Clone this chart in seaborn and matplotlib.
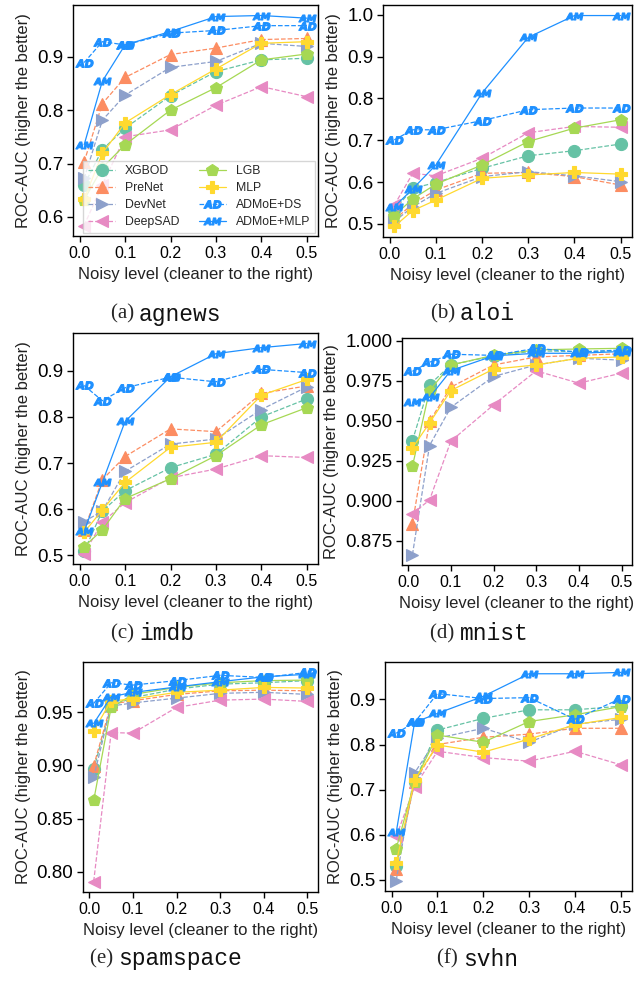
import matplotlib
matplotlib.use("Agg")
import matplotlib.pyplot as plt
import seaborn as sns
import pandas as pd
from matplotlib.ticker import MultipleLocator

# ---------------- data ----------------
noise = [0.01, 0.05, 0.1, 0.2, 0.3, 0.4, 0.5]
methods = ["XGBOD", "PreNet", "DevNet", "DeepSAD", "LGB", "MLP", "ADMoE+DS", "ADMoE+MLP"]

agnews = {
    "XGBOD":     [0.660, 0.726, 0.766, 0.827, 0.872, 0.894, 0.897],
    "PreNet":    [0.703, 0.812, 0.861, 0.904, 0.916, 0.932, 0.934],
    "DevNet":    [0.672, 0.781, 0.828, 0.880, 0.891, 0.925, 0.919],
    "DeepSAD":   [0.584, 0.660, 0.750, 0.763, 0.809, 0.844, 0.825],
    "LGB":       [0.632, 0.692, 0.735, 0.800, 0.842, 0.894, 0.905],
    "MLP":       [0.633, 0.719, 0.776, 0.829, 0.877, 0.925, 0.928],
    "ADMoE+DS":  [0.889, 0.928, 0.922, 0.944, 0.949, 0.958, 0.958],
    "ADMoE+MLP": [0.735, 0.854, 0.922, 0.947, 0.975, 0.977, 0.972],
}
aloi = {
    "XGBOD":     [0.533, 0.585, 0.599, 0.633, 0.663, 0.675, 0.691],
    "PreNet":    [0.510, 0.548, 0.581, 0.621, 0.623, 0.613, 0.593],
    "DevNet":    [0.506, 0.541, 0.573, 0.613, 0.625, 0.615, 0.601],
    "DeepSAD":   [0.545, 0.621, 0.615, 0.657, 0.718, 0.733, 0.731],
    "LGB":       [0.520, 0.560, 0.595, 0.641, 0.697, 0.729, 0.749],
    "MLP":       [0.494, 0.532, 0.557, 0.609, 0.617, 0.623, 0.619],
    "ADMoE+DS":  [0.701, 0.725, 0.725, 0.747, 0.773, 0.777, 0.777],
    "ADMoE+MLP": [0.541, 0.584, 0.641, 0.813, 0.946, 0.998, 0.998],
}
imdb = {
    "XGBOD":     [0.509, 0.596, 0.640, 0.690, 0.719, 0.800, 0.839],
    "PreNet":    [0.555, 0.664, 0.714, 0.774, 0.768, 0.851, 0.867],
    "DevNet":    [0.573, 0.596, 0.682, 0.741, 0.752, 0.816, 0.865],
    "DeepSAD":   [0.504, 0.572, 0.614, 0.668, 0.687, 0.716, 0.712],
    "LGB":       [0.519, 0.555, 0.623, 0.666, 0.716, 0.783, 0.820],
    "MLP":       [0.550, 0.598, 0.658, 0.734, 0.745, 0.847, 0.881],
    "ADMoE+DS":  [0.868, 0.835, 0.863, 0.886, 0.876, 0.903, 0.896],
    "ADMoE+MLP": [0.552, 0.658, 0.790, 0.887, 0.937, 0.950, 0.959],
}
mnist = {
    "XGBOD":     [0.9377, 0.9726, 0.9850, 0.9907, 0.9938, 0.9934, 0.9938],
    "PreNet":    [0.8858, 0.9497, 0.9711, 0.9850, 0.9900, 0.9910, 0.9920],
    "DevNet":    [0.8663, 0.9346, 0.9585, 0.9778, 0.9850, 0.9892, 0.9880],
    "DeepSAD":   [0.8920, 0.9005, 0.9373, 0.9600, 0.9813, 0.9736, 0.9799],
    "LGB":       [0.9217, 0.9690, 0.9850, 0.9910, 0.9944, 0.9950, 0.9954],
    "MLP":       [0.9331, 0.9487, 0.9690, 0.9824, 0.9850, 0.9892, 0.9900],
    "ADMoE+DS":  [0.9810, 0.9867, 0.9917, 0.9910, 0.9954, 0.9930, 0.9944],
    "ADMoE+MLP": [0.9616, 0.9647, 0.9815, 0.9907, 0.9923, 0.9923, 0.9934],
}
spamspace = {
    "XGBOD":     [0.8965, 0.9560, 0.9640, 0.9720, 0.9767, 0.9780, 0.9800],
    "PreNet":    [0.8997, 0.9580, 0.9610, 0.9670, 0.9704, 0.9710, 0.9704],
    "DevNet":    [0.8890, 0.9560, 0.9590, 0.9635, 0.9680, 0.9690, 0.9670],
    "DeepSAD":   [0.7906, 0.9310, 0.9305, 0.9547, 0.9616, 0.9626, 0.9604],
    "LGB":       [0.8670, 0.9547, 0.9670, 0.9736, 0.9780, 0.9800, 0.9805],
    "MLP":       [0.9327, 0.9610, 0.9626, 0.9690, 0.9710, 0.9736, 0.9730],
    "ADMoE+DS":  [0.9585, 0.9780, 0.9758, 0.9800, 0.9850, 0.9830, 0.9877],
    "ADMoE+MLP": [0.9396, 0.9648, 0.9689, 0.9740, 0.9790, 0.9836, 0.9860],
}
svhn = {
    "XGBOD":     [0.531, 0.717, 0.832, 0.858, 0.877, 0.877, 0.885],
    "PreNet":    [0.524, 0.717, 0.800, 0.816, 0.823, 0.836, 0.836],
    "DevNet":    [0.498, 0.737, 0.814, 0.836, 0.805, 0.845, 0.856],
    "DeepSAD":   [0.596, 0.706, 0.785, 0.771, 0.763, 0.785, 0.755],
    "LGB":       [0.569, 0.717, 0.821, 0.805, 0.851, 0.866, 0.884],
    "MLP":       [0.538, 0.721, 0.799, 0.783, 0.812, 0.844, 0.860],
    "ADMoE+DS":  [0.825, 0.849, 0.913, 0.902, 0.904, 0.856, 0.902],
    "ADMoE+MLP": [0.605, 0.849, 0.869, 0.907, 0.957, 0.957, 0.960],
}

panels = [("(a)", "agnews", agnews), ("(b)", "aloi", aloi),
          ("(c)", "imdb", imdb), ("(d)", "mnist", mnist),
          ("(e)", "spamspace", spamspace), ("(f)", "svhn", svhn)]

# ---------------- style ----------------
sns.set_style("ticks")
plt.rcParams["font.family"] = ["Liberation Sans", "DejaVu Sans"]
plt.rcParams["mathtext.fontset"] = "dejavusans"

colors = {"XGBOD": "#66c2a5", "PreNet": "#fc8d62", "DevNet": "#8da0cb",
          "DeepSAD": "#e78ac3", "LGB": "#a6d854", "MLP": "#ffd92f",
          "ADMoE+DS": "#1e90ff", "ADMoE+MLP": "#1e90ff"}
markers = {"XGBOD": "o", "PreNet": "^", "DevNet": ">", "DeepSAD": "<",
           "LGB": "p", "MLP": "P", "ADMoE+DS": r"$\mathbfit{AD}$",
           "ADMoE+MLP": r"$\mathbfit{AM}$"}
lstyles = {"XGBOD": "--", "PreNet": "--", "DevNet": "--", "DeepSAD": "--",
           "LGB": "-", "MLP": "-", "ADMoE+DS": "--", "ADMoE+MLP": "-"}
msizes = {m: 8.7 for m in methods}
msizes["ADMoE+DS"] = 12.5
msizes["ADMoE+MLP"] = 12.5

W, H = 644, 981
fig = plt.figure(figsize=(W / 100, H / 100), dpi=100)

rects_px = [(73, 5, 318, 236), (383, 5, 632, 237),
            (73, 333, 318, 564), (402, 338, 632, 565),
            (83, 662, 318, 892), (385, 662, 632, 891)]
steps = [0.1, 0.1, 0.1, 0.025, 0.05, 0.1]
captions_px = [(139, 314), (460, 314), (139, 634), (460, 634), (118, 959), (463, 959)]

for i, ((tag, name, data), (l, t, r, b)) in enumerate(zip(panels, rects_px)):
    ax = fig.add_axes([l / W, 1 - b / H, (r - l) / W, (b - t) / H])
    for m in methods:
        df = pd.DataFrame({"noise": noise, "auc": data[m]})
        sns.lineplot(data=df, x="noise", y="auc", ax=ax, color=colors[m],
                     marker=markers[m], linestyle=lstyles[m], linewidth=0.9,
                     markersize=msizes[m], markeredgecolor=colors[m],
                     markeredgewidth=0.8, errorbar=None,
                     label=m if i == 0 else None, legend=False)
    ax.set_xticks([0.0, 0.1, 0.2, 0.3, 0.4, 0.5])
    ax.yaxis.set_major_locator(MultipleLocator(steps[i]))
    ax.tick_params(axis="y", labelsize=13.5, length=4, width=1, pad=3, colors="black")
    ax.tick_params(axis="x", labelsize=11.5, length=4, width=1, pad=3.5, colors="black")
    for s in ax.spines.values():
        s.set_color("black")
        s.set_linewidth(1.0)
    ax.set_xlabel("Noisy level (cleaner to the right)", fontsize=12, color="#222222")
    ax.set_ylabel("ROC-AUC (higher the better)", fontsize=12, color="#222222")
    if i == 0:
        ax.legend(loc="lower right", ncol=2, fontsize=8.8, handlelength=2.2,
                  columnspacing=1.6, borderaxespad=0.25, labelspacing=0.4,
                  framealpha=0.8, edgecolor="#cccccc", fancybox=False)
    cx, cy = captions_px[i]
    fig.text(cx / W, 1 - cy / H, tag + " ", ha="right", va="center",
             fontsize=15, family="Liberation Serif")
    fig.text(cx / W, 1 - cy / H, name, ha="left", va="center",
             fontsize=16.5, family="Liberation Mono", color="#111111")

fig.savefig("out.png", dpi=100)
